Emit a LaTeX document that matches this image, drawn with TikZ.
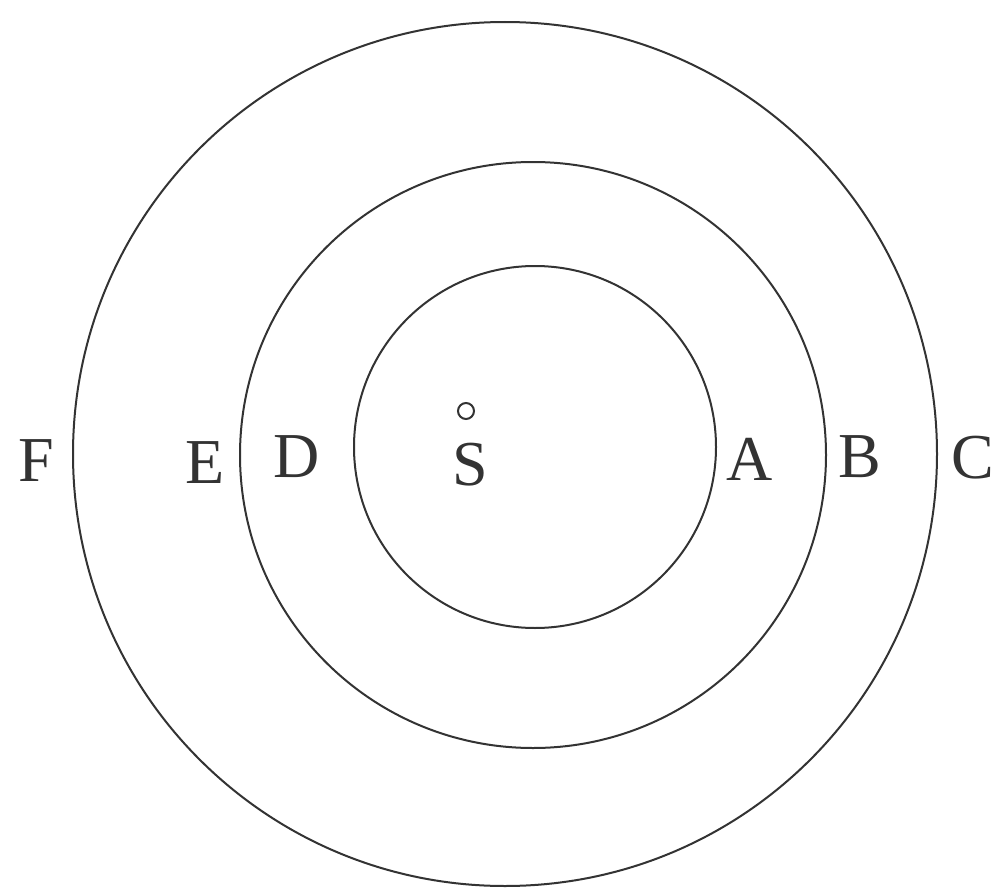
\documentclass[tikz,border=0pt]{standalone}
\usepackage{fontspec}
\setmainfont{Liberation Serif}
\begin{document}
\begin{tikzpicture}[x=1pt,y=-1pt,
  ring/.style={draw=black!80, line width=2pt},
  lab/.style={anchor=base, inner sep=0pt, text=black!80, font=\fontsize{64}{64}\selectfont}]
\useasboundingbox (0,0) rectangle (999,891);
\draw[ring] (505,454) circle (432);
\draw[ring] (533,455) circle (293);
\draw[ring] (535,447) circle (181);
\draw[ring] (466,411) circle (8);
\node[lab] (F) at (36,481) {F};
\node[lab] (E) at (205,483) {E};
\node[lab] (D) at (297,477) {D};
\node[lab] (S) at (470,485) {S};
\node[lab] (A) at (750,480) {A};
\node[lab] (B) at (860,477) {B};
\node[lab] (C) at (973,478) {C};
\end{tikzpicture}
\end{document}
